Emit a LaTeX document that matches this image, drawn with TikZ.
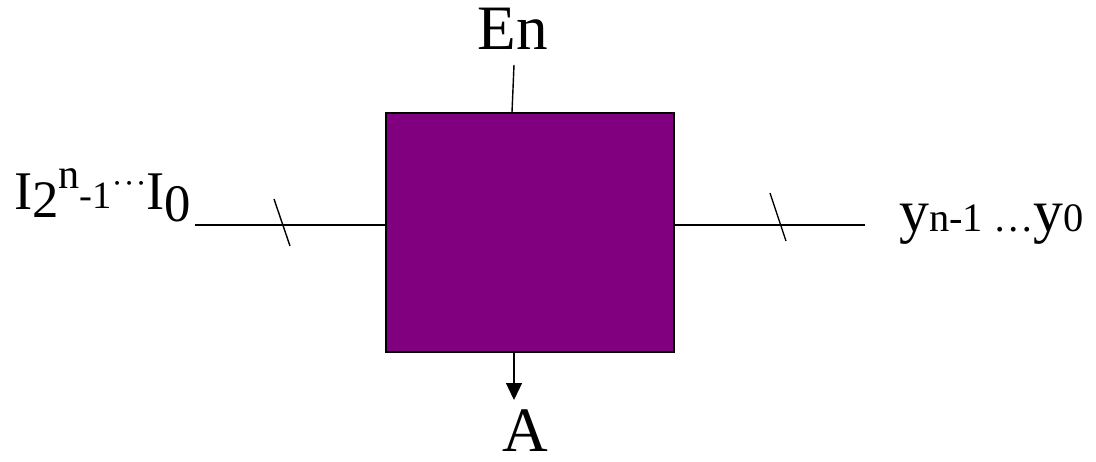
\documentclass[tikz,border=0pt]{standalone}
\usepackage{fontspec}
\setmainfont{Liberation Serif}
\usepackage{xcolor}
\usetikzlibrary{positioning, arrows.meta, calc}
\definecolor{encpurple}{HTML}{800080}

\begin{document}
\begin{tikzpicture}[
  x=0.02cm, y=-0.02cm,
  encbox/.style={rectangle, draw, fill=encpurple, line width=0.8pt,
                 minimum width=5.76cm, minimum height=4.78cm, inner sep=0pt},
  big/.style={font=\fontsize{36}{40}\selectfont, inner sep=0pt},
  side/.style={font=\fontsize{31}{34}\selectfont, inner sep=0pt},
  wire/.style={line width=0.8pt},
  arrow/.style={-{Triangle[length=3.4mm, width=3.2mm]}, line width=0.8pt},
]
\useasboundingbox (0,0) rectangle (1096,462);

\node[encbox] at (530, 232.5) (enc) {};

\node[big, anchor=base] at (513, 50)  (en) {En};
\node[big, anchor=base] at (525, 452) (act) {A};

\node[side, anchor=base west] at (14, 210) (inlbl)
  {I\raisebox{-0.3ex}{\fontsize{30}{32}\selectfont 2}%
   \raisebox{0.85ex}{\fontsize{24}{26}\selectfont n}%
   \raisebox{0.05ex}{\fontsize{22}{24}\selectfont -1}%
   \raisebox{0.7ex}{\fontsize{22}{24}\selectfont $\cdot\!\cdot\!\cdot$}%
   I\raisebox{-0.45ex}{\fontsize{30}{32}\selectfont 0}};
\node[side, anchor=base west] at (899, 232) (outlbl)
  {\fontsize{34}{36}\selectfont y{\fontsize{23}{26}\selectfont n-1 \ldots}y{\fontsize{23}{26}\selectfont 0}};

\coordinate (inL)    at (195, 225);
\coordinate (outR)   at (865, 225);
\coordinate (enTop)  at (514, 65);
\coordinate (actTop) at (514, 400);

% wires
\draw[wire] (inL) -- (inL -| enc.west);
\draw[wire] (enc.east |- outR) -- (outR);
\draw[wire] (enTop) -- ([xshift=-0.04cm]enTop |- enc.north);
\draw[arrow] (actTop |- enc.south) -- (actTop);

% bus slashes
\draw[wire] (274, 199) -- (290, 246);
\draw[wire] (770, 193) -- (786, 241);
\end{tikzpicture}
\end{document}
